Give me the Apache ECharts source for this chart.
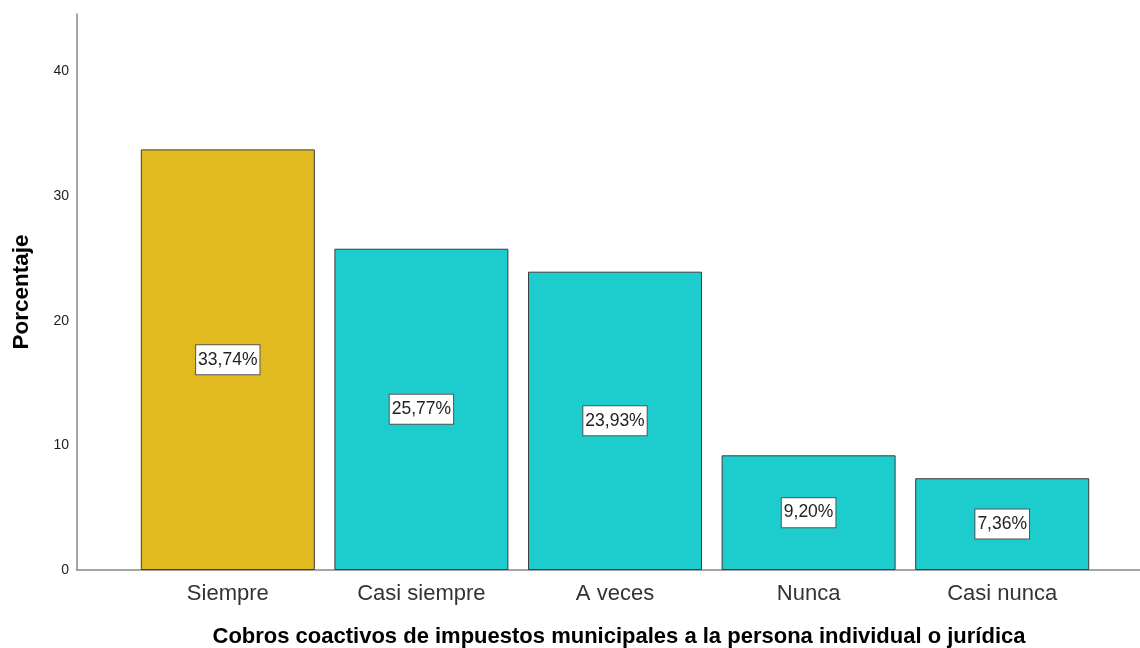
<!DOCTYPE html>
<html>
<head>
<meta charset="utf-8">
<script src="https://cdn.jsdelivr.net/npm/echarts@6/dist/echarts.min.js"></script>
<style>html,body{margin:0;padding:0;background:#fff}#c{width:1140px;height:648px}</style>
</head>
<body>
<div id="c"></div>
<script>
const categories = ['Siempre', 'Casi siempre', 'A veces', 'Nunca', 'Casi nunca'];
const values = [33.74, 25.77, 23.93, 9.20, 7.36];
const barColors = ['#E0BA1F', '#1DCCCC', '#1DCCCC', '#1DCCCC', '#1DCCCC'];
const yTicks = [0, 10, 20, 30, 40];
const xTitle = 'Cobros coactivos de impuestos municipales a la persona individual o jurídica';
const yTitle = 'Porcentaje';

const FONT = '"Liberation Sans", Arial, sans-serif';
const YMAX = 44.6;
const chart = echarts.init(document.getElementById('c'));
chart.setOption({
  animation: false,
  backgroundColor: '#fff',
  textStyle: { fontFamily: FONT },
  grid: [
    { left: 77, right: 0, top: 14, bottom: 78 },
    { left: 131, right: 41, top: 14, bottom: 78 }
  ],
  xAxis: [
    { type: 'value', gridIndex: 0, min: 0, max: 1, axisLine: { show: true, onZero: false, lineStyle: { color: '#888', width: 1.5 } },
      axisTick: { show: false }, axisLabel: { show: false }, splitLine: { show: false } },
    { type: 'category', gridIndex: 1, data: categories, axisLine: { show: false }, axisTick: { show: false },
      axisLabel: { fontSize: 22, color: '#333', margin: 13, fontFamily: FONT } }
  ],
  yAxis: [
    { type: 'value', gridIndex: 0, min: 0, max: YMAX, interval: 10,
      axisLine: { show: true, lineStyle: { color: '#888', width: 1.5 } }, axisTick: { show: false },
      splitLine: { show: false },
      axisLabel: { fontSize: 14, color: '#222', margin: 8, fontFamily: FONT,
        formatter: v => yTicks.includes(v) ? String(v) : '' },
      name: yTitle, nameLocation: 'middle', nameGap: 44, nameRotate: 90,
      nameTextStyle: { fontSize: 22.5, fontWeight: 'bold', color: '#000', fontFamily: FONT } },
    { type: 'value', gridIndex: 1, min: 0, max: YMAX, show: false }
  ],
  series: [{
    type: 'bar', xAxisIndex: 1, yAxisIndex: 1, barWidth: 174,
    data: values.map((v, i) => ({ value: v, itemStyle: { color: barColors[i] } })),
    itemStyle: { borderColor: '#3c3c3c', borderWidth: 1 },
    label: {
      show: true, position: 'inside', fontSize: 17.5, color: '#222', fontFamily: FONT,
      backgroundColor: '#fff', borderColor: '#555', borderWidth: 1, padding: [6, 2, 5, 2],
      formatter: p => p.value.toFixed(2).replace('.', ',') + '%'
    }
  }],
  graphic: [{
    type: 'text', x: 619, y: 637,
    style: { text: xTitle, fontSize: 22, fontWeight: 'bold', fill: '#000', fontFamily: FONT,
      textAlign: 'center', textVerticalAlign: 'middle' }
  }]
});
</script>
</body>
</html>
